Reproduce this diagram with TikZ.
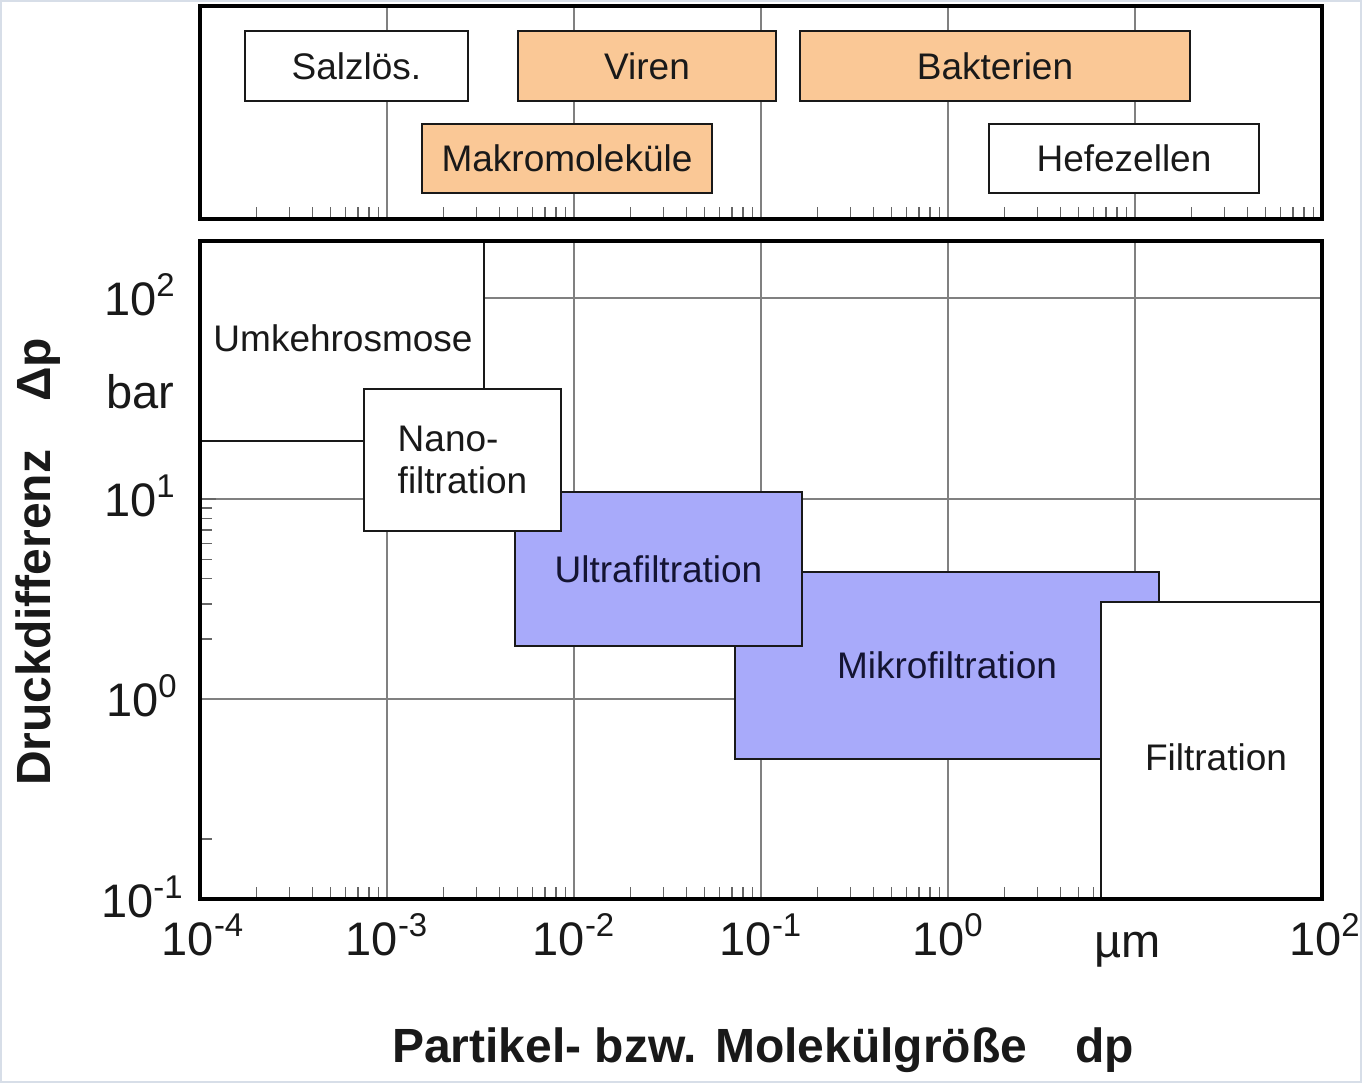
\documentclass[tikz,border=0pt]{standalone}
\usepackage{fontspec}
\setmainfont{Liberation Sans}
\definecolor{orangefill}{RGB}{250,200,150}
\definecolor{bluefill}{RGB}{168,170,250}
\definecolor{navytext}{RGB}{20,20,50}
\definecolor{edgegray}{RGB}{215,222,232}
\newcommand\boxfont{\fontsize{18.5}{21}\selectfont}
\newcommand\scalefont{\fontsize{23.5}{27}\selectfont}
\newcommand\titlefont{\fontsize{24}{28}\selectfont\bfseries}
\newcommand\pw[1]{10\textsuperscript{#1}}
\begin{document}
\begin{tikzpicture}[x=0.5pt,y=-0.5pt,
  frame/.style={draw=black, line width=2.2pt},
  gridline/.style={draw=black!50, line width=0.7pt},
  tickmark/.style={draw=black!60, line width=0.7pt},
  band/.style={draw=black!90, line width=1.3pt, inner sep=0pt, outer sep=0pt,
               text=black!90, font=\boxfont},
  white band/.style={band, fill=white},
  orange band/.style={band, fill=orangefill},
  blue band/.style={band, fill=bluefill, text=navytext},
  scalelabel/.style={font=\scalefont, inner sep=0pt, text=black!90},
  axistitle/.style={font=\titlefont, inner sep=0pt, text=black!90},
]
% page and faint outer edge
\useasboundingbox (0,0) rectangle (1362,1083);
\fill[white] (0,0) rectangle (1362,1083);
\draw[edgegray, line width=0.8pt] (1,1) rectangle (1361,1082);

% ---------- upper panel: particle classes ----------
\foreach \xx in {387,574,761,948,1135}
  \draw[gridline] (\xx,6) -- (\xx,219);
\foreach \d in {0,...,5}
  \foreach \m in {2,...,9}{
    \pgfmathsetmacro\xx{200+187*(\d+log10(\m))}
    \draw[tickmark] (\xx,219) -- ++(0,-12);
  }
\node[white band,  minimum width=111.5pt, minimum height=35pt]   (salz)  at (356.5,66)  {Salzlös.};
\node[orange band, minimum width=129pt,   minimum height=35pt]   (viren) at (647,66)    {Viren};
\node[orange band, minimum width=195pt,   minimum height=35pt]   (bakt)  at (995,66)    {Bakterien};
\node[orange band, minimum width=145pt,   minimum height=34.5pt] (makro) at (567,158.5) {Makromoleküle};
\node[white band,  minimum width=135pt,   minimum height=34.5pt] (hefe)  at (1124,158.5) {Hefezellen};
\draw[frame] (200,6) rectangle (1322,219);

% ---------- lower panel: pressure vs. size ----------
\foreach \xx in {387,574,761,948,1135}
  \draw[gridline] (\xx,241) -- (\xx,899);
\foreach \yy in {298,499,699}
  \draw[gridline] (200,\yy) -- (1322,\yy);
\foreach \d in {0,...,5}
  \foreach \m in {2,...,9}{
    \pgfmathsetmacro\xx{200+187*(\d+log10(\m))}
    \draw[tickmark] (\xx,899) -- ++(0,-12);
  }
\foreach \m in {2,...,9}{
  \pgfmathsetmacro\yy{499+200.5*(1-log10(\m))}
  \draw[tickmark] (200,\yy) -- ++(12,0);
}
\draw[tickmark] (200,839) -- ++(12,0);
\draw[tickmark] (200,499) -- ++(16,0);

\node[white band, minimum width=142pt,   minimum height=100.5pt] (umk)   at (342,340.5)  {};
\node[font=\boxfont, text=black!90, inner sep=0pt] (umklabel) at (343,338) {Umkehrosmose};
\node[blue band,  minimum width=212pt,   minimum height=93.5pt]  (mikro) at (947,665.5)  {Mikrofiltration};
\node[blue band,  minimum width=143.5pt, minimum height=77pt]    (ultra) at (658.5,569)  {Ultrafiltration};
\node[white band, minimum width=98.5pt,  minimum height=71pt, align=left] (nano) at (462.5,460) {Nano-\\filtration};
\node[white band, minimum width=110.5pt, minimum height=149pt]   (filt)  at (1211.5,751) {};
\node[font=\boxfont, text=black!90, inner sep=0pt] (filtlabel) at (1216,757) {Filtration};
\draw[frame] (200,241) rectangle (1322,899);

% ---------- scale labels ----------
\node[scalelabel, anchor=base] (xm4) at (203,955)  {\pw{-4}};
\node[scalelabel, anchor=base] (xm3) at (387,955)  {\pw{-3}};
\node[scalelabel, anchor=base] (xm2) at (574,955)  {\pw{-2}};
\node[scalelabel, anchor=base] (xm1) at (761,955)  {\pw{-1}};
\node[scalelabel, anchor=base] (x0)  at (948,955)  {\pw{0}};
\node[scalelabel, anchor=base] (xum) at (1128,957) {µm};
\node[scalelabel, anchor=base] (x2)  at (1325,955) {\pw{2}};

\node[scalelabel, anchor=base east] (y2)  at (176,315) {\pw{2}};
\node[scalelabel, anchor=base east] (ybar) at (175,408) {bar};
\node[scalelabel, anchor=base east] (y1)  at (176,516) {\pw{1}};
\node[scalelabel, anchor=base east] (y0)  at (178,716) {\pw{0}};
\node[scalelabel, anchor=base east] (ym1) at (184,917) {\pw{-1}};

% ---------- axis titles ----------
\node[axistitle, rotate=90, anchor=base] (ytitle) at (50,562) {Druckdifferenz\hspace{1em}Δp};
\node[axistitle, anchor=base] (xtitle) at (763,1062) {Partikel- bzw. Molekülgröße\hspace{1em}dp};
\end{tikzpicture}
\end{document}
